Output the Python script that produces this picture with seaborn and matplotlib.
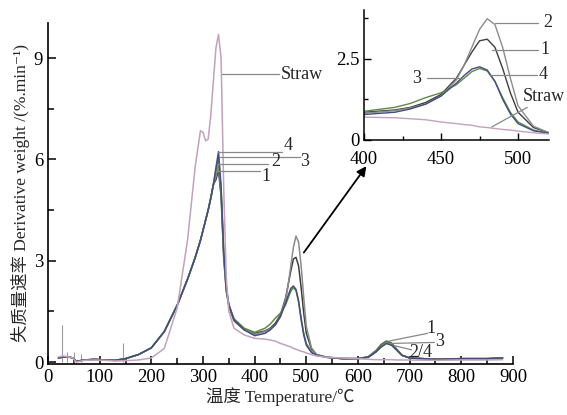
import numpy as np
import pandas as pd
import matplotlib
matplotlib.use("Agg")
import matplotlib.pyplot as plt
import seaborn as sns
from matplotlib.ticker import MultipleLocator

# ------------------------------------------------------------
# DATA
# ------------------------------------------------------------
temp = [20, 30, 40, 48, 55, 70, 90, 110, 130, 150, 175, 200, 225, 250, 270,
        285, 295, 300, 305, 310, 315, 320, 325, 330, 335, 340, 345, 350, 360, 380,
        400, 420, 430, 440, 450, 460, 465, 470, 475, 480, 485, 490, 495, 500, 510,
        520, 540, 570, 600, 620, 635, 645, 655, 665, 675, 685, 700, 750, 800, 850, 880]

low_part = [0.12, 0.15, 0.15, 0.12, 0.02, 0.06, 0.08, 0.06, 0.05, 0.10, 0.22, 0.42, 0.90, 1.68, 2.45,
            3.10, 3.60, 3.90, 4.20, 4.50, 4.85, 5.25]
tail_part = [0.14, 0.10, 0.10, 0.14, 0.30, 0.45, 0.55, 0.50, 0.35, 0.20, 0.12, 0.08, 0.10, 0.10, 0.12]

sample1 = low_part + [5.40, 5.67, 4.90, 3.10, 2.10, 1.65, 1.22, 0.95,
                      0.85, 0.92, 1.00, 1.15, 1.40, 1.90, 2.30, 2.70, 3.05, 3.10, 2.85, 2.20, 1.45, 0.85, 0.38,
                      0.22] + [0.14, 0.10, 0.10, 0.16, 0.34, 0.52, 0.62, 0.56, 0.38, 0.20, 0.12, 0.08, 0.10, 0.10, 0.12]
sample2 = low_part + [5.50, 5.85, 5.00, 3.20, 2.15, 1.68, 1.24, 0.97,
                      0.82, 0.90, 0.98, 1.10, 1.35, 1.85, 2.30, 2.85, 3.40, 3.73, 3.55, 2.85, 1.90, 1.05, 0.42,
                      0.22] + tail_part
sample3 = low_part + [5.65, 6.08, 5.10, 3.30, 2.20, 1.70, 1.28, 1.00,
                      0.88, 1.00, 1.12, 1.30, 1.45, 1.70, 1.90, 2.10, 2.20, 2.12, 1.80, 1.30, 0.85, 0.55, 0.30,
                      0.20] + [0.14, 0.10, 0.10, 0.15, 0.33, 0.50, 0.60, 0.54, 0.37, 0.20, 0.12, 0.08, 0.10, 0.10, 0.12]
sample4 = low_part + [5.75, 6.23, 5.20, 3.30, 2.20, 1.70, 1.25, 0.95,
                      0.78, 0.85, 0.95, 1.10, 1.35, 1.75, 1.98, 2.18, 2.25, 2.15, 1.80, 1.25, 0.80, 0.50, 0.28,
                      0.20] + tail_part
straw = [0.15, 0.18, 0.15, 0.12, 0.00, 0.05, 0.06, 0.05, 0.03, 0.04, 0.06, 0.12, 0.40, 1.60, 3.60,
         5.80, 6.85, 6.80, 6.55, 6.60, 7.30, 8.30, 9.30, 9.70, 9.00, 5.20, 2.50, 1.50, 1.00, 0.80,
         0.70, 0.68, 0.65, 0.62, 0.55, 0.50, 0.47, 0.45, 0.40, 0.38, 0.35, 0.32, 0.30, 0.27, 0.22,
         0.18, 0.14, 0.12, 0.10, 0.08, 0.07, 0.07, 0.07, 0.07, 0.06, 0.06, 0.06, 0.05, 0.06, 0.06, 0.07]

spike_x = [27, 36, 50, 63, 145]
spike_top = [1.10, 0.30, 0.30, 0.25, 0.56]

series_names = ["1", "2", "3", "4", "Straw"]
series_vals = [sample1, sample2, sample3, sample4, straw]
colors = {"1": "#3f3f3f", "2": "#8c8c8c", "3": "#5f8a4a", "4": "#454e7c", "Straw": "#c2a2bc"}

df = pd.DataFrame({"T": np.tile(temp, len(series_names)),
                   "dtg": np.concatenate(series_vals),
                   "series": np.repeat(series_names, len(temp))})

# ------------------------------------------------------------
# PLOT
# ------------------------------------------------------------
sns.set_style("ticks")
plt.rcParams['font.family'] = ['Liberation Serif', 'Noto Sans CJK SC', 'DejaVu Sans']

fig = plt.figure(figsize=(5.67, 4.15), dpi=100)
ax = fig.add_axes([0.0847, 0.1236, 0.8200, 0.8210])

ax.vlines(spike_x, 0, spike_top, color="#9a9a9a", lw=0.8)
sns.lineplot(data=df, x="T", y="dtg", hue="series", palette=colors, lw=1.1,
             legend=False, ax=ax, sort=False)

ax.set_xlim(0, 900)
ax.set_ylim(-0.05, 10.04)
ax.xaxis.set_major_locator(MultipleLocator(100))
ax.xaxis.set_minor_locator(MultipleLocator(50))
ax.yaxis.set_major_locator(MultipleLocator(3))
ax.yaxis.set_minor_locator(MultipleLocator(1.5))
ax.tick_params(which='both', direction='in', labelsize=13.5, width=1.1, colors='black')
ax.tick_params(which='major', length=6)
ax.tick_params(which='minor', length=4)
sns.despine(ax=ax)
for s in ["left", "bottom"]:
    ax.spines[s].set_linewidth(1.2)
    ax.spines[s].set_color('black')
ax.set_xlabel("温度 Temperature/℃", fontsize=12.5, labelpad=1)
ax.set_ylabel("失质量速率 Derivative weight /(%.min⁻¹)", fontsize=12.5, labelpad=3)

lead = dict(color="#888888", lw=0.9)
# main leaders
ax.plot([336, 447], [8.52, 8.52], **lead)
ax.text(450, 8.52, "Straw", fontsize=13, va="center", ha="left")
for x0, x1, y, tx, ty, lab in [(329, 453, 6.22, 464, 6.40, "4"),
                               (333, 487, 6.07, 497, 5.93, "3"),
                               (329, 426, 5.85, 441, 5.95, "2"),
                               (329, 410, 5.67, 422, 5.50, "1")]:
    ax.plot([x0, x1], [y, y], **lead)
    ax.text(tx, ty, lab, fontsize=13, ha="center", va="center")
ax.plot([660, 735], [0.62, 0.85], **lead)
ax.text(742, 1.0, "1", fontsize=13, ha="center", va="center")
ax.plot([663, 748], [0.55, 0.58], **lead)
ax.text(758, 0.62, "3", fontsize=13, ha="center", va="center")
ax.plot([672, 704], [0.48, 0.36], **lead)
ax.text(722, 0.28, "2/4", fontsize=13, ha="center", va="center")

# arrow to inset
fig.patches.append(matplotlib.patches.FancyArrowPatch(
    (0.533, 0.386), (0.649, 0.605), transform=fig.transFigure,
    arrowstyle='-|>', mutation_scale=14, color='black', lw=1.3))

# ------------------------------------------------------------
# INSET
# ------------------------------------------------------------
axin = fig.add_axes([0.642, 0.663, 0.326, 0.313])
sub = df[(df["T"] >= 390) & (df["T"] <= 530)]
sns.lineplot(data=sub, x="T", y="dtg", hue="series", palette=colors, lw=1.0,
             legend=False, ax=axin, sort=False)
axin.set_xlim(400, 520)
axin.set_ylim(0, 4.0)
axin.xaxis.set_major_locator(MultipleLocator(50))
axin.xaxis.set_minor_locator(MultipleLocator(25))
axin.yaxis.set_major_locator(MultipleLocator(2.5))
axin.yaxis.set_minor_locator(MultipleLocator(1.25))
axin.tick_params(which='both', direction='in', labelsize=13.5, width=1.0, colors='black')
axin.tick_params(axis='x', pad=8)
axin.tick_params(axis='y', pad=3)
axin.tick_params(which='major', length=5)
axin.tick_params(which='minor', length=3)
sns.despine(ax=axin)
for s in ["left", "bottom"]:
    axin.spines[s].set_linewidth(1.1)
    axin.spines[s].set_color('black')
axin.set_xlabel("")
axin.set_ylabel("")
axin.set_yticks([0, 2.5])
axin.set_yticklabels(["0", "2.5"])

for x0, x1, y, tx, lab in [(485, 513, 3.6, 519.5, "2"),
                           (483, 513, 2.78, 517.5, "1"),
                           (482, 512, 2.0, 516, "4")]:
    axin.plot([x0, x1], [y, y], clip_on=False, **lead)
    axin.text(tx, y, lab, fontsize=13, ha="center", va="center")
axin.plot([441, 462], [1.9, 1.9], **lead)
axin.text(434, 1.9, "3", fontsize=13, ha="center", va="center")
axin.plot([483, 506], [0.4, 1.0], clip_on=False, **lead)
axin.text(503, 1.35, "Straw", fontsize=13, ha="left", va="center")

fig.savefig("out.png", dpi=100)
